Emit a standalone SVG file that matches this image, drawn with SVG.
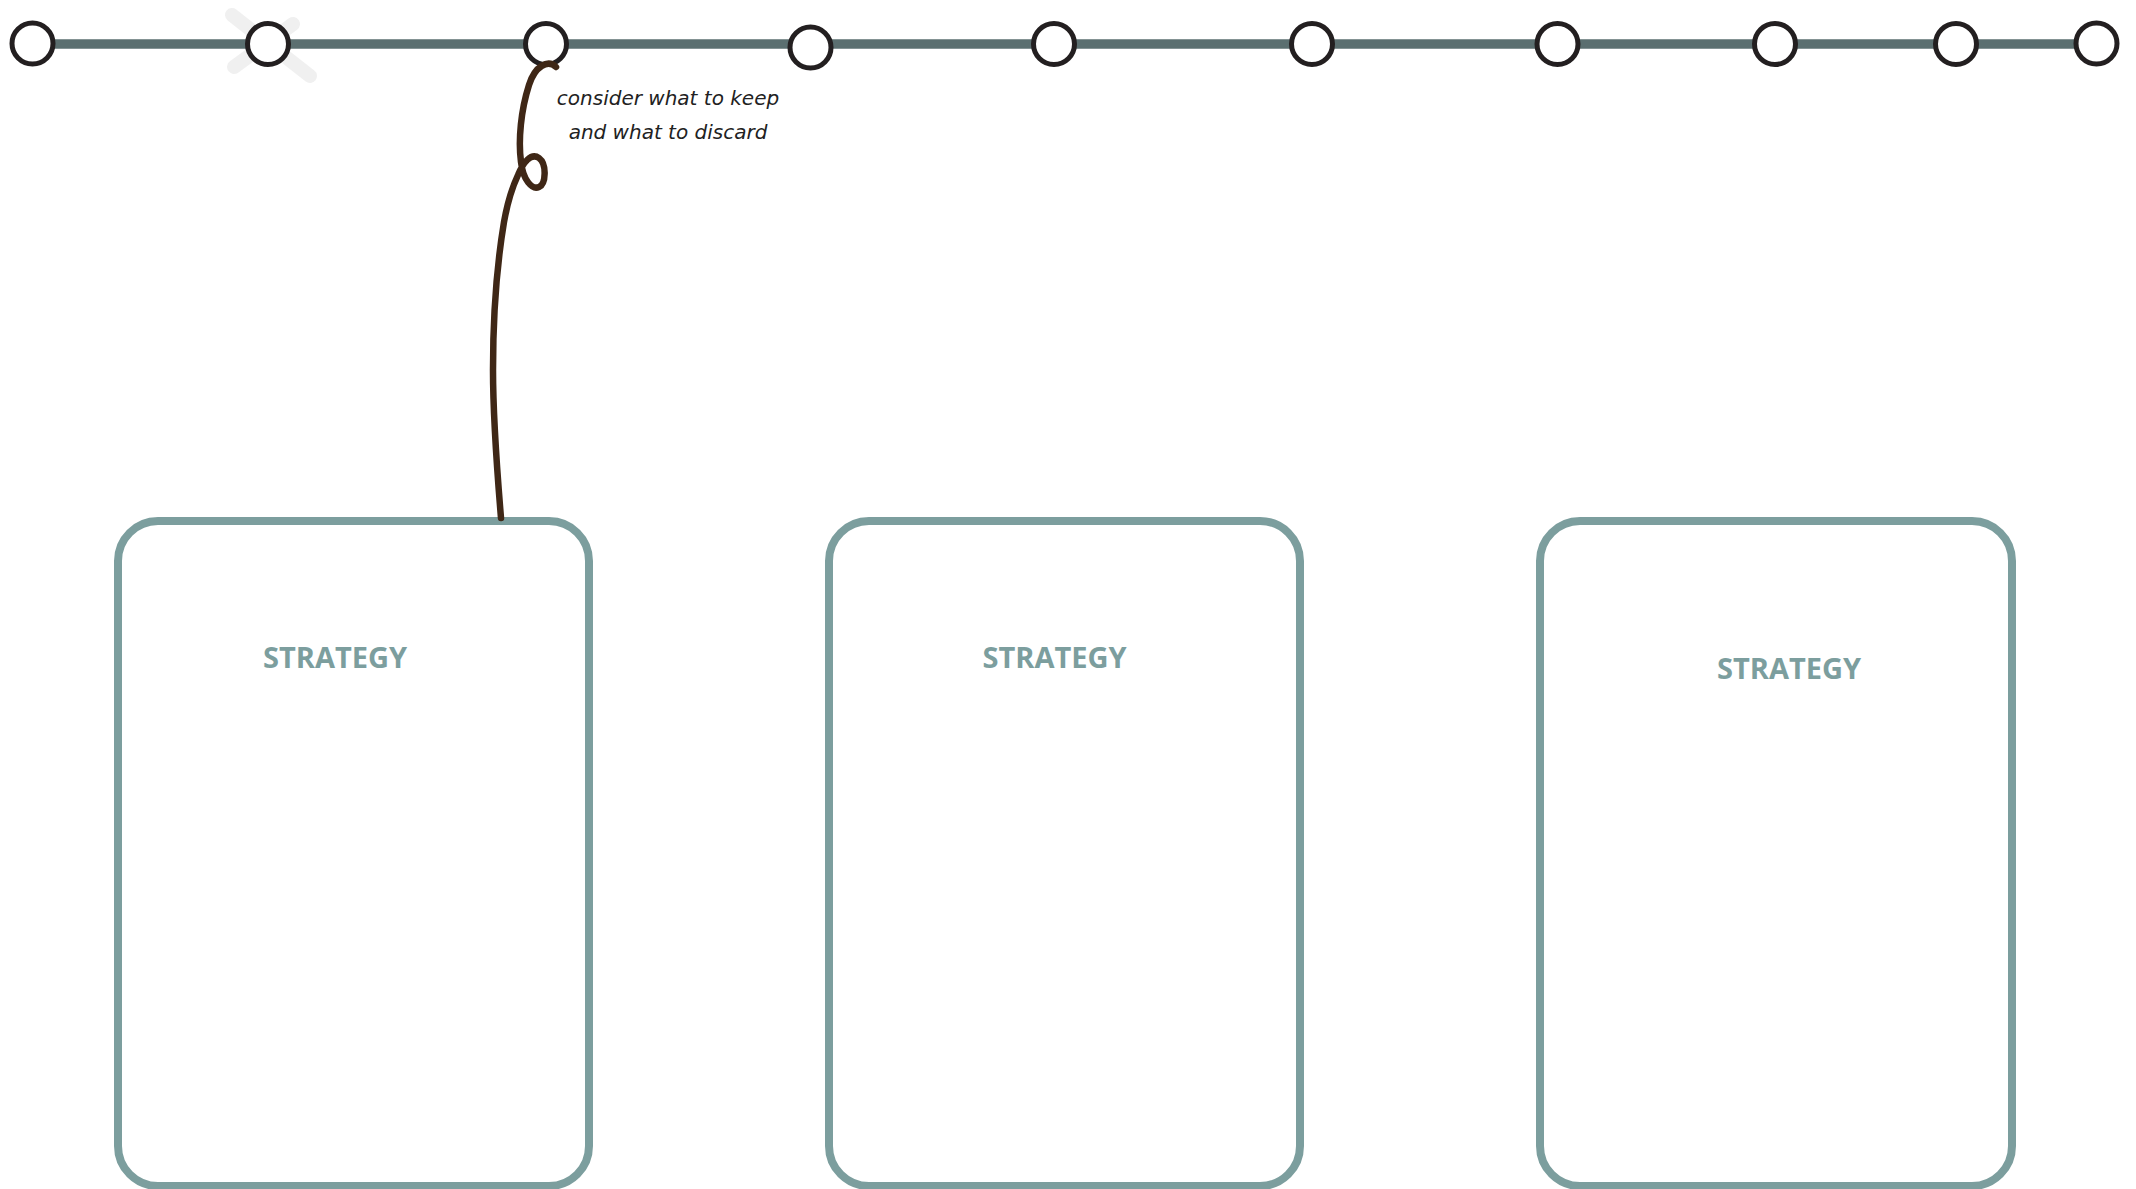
<svg xmlns="http://www.w3.org/2000/svg" width="2136" height="1189" viewBox="0 0 2136 1189">
<style>
.track{stroke:#5b6f70;stroke-width:9.5;fill:none}
.dot{fill:#fff;stroke:#231f20;stroke-width:5}
.box{fill:#fff;stroke:#7c9e9e;stroke-width:8}
.title{font-family:"Open Sans","Noto Sans",sans-serif;font-weight:700;font-size:29px;fill:#7c9e9e;text-anchor:middle}
.note{font-family:"DejaVu Sans","Noto Sans",sans-serif;font-style:italic;font-size:20px;fill:#222;text-anchor:middle}
.strike{stroke:#e6e6e6;stroke-width:14;stroke-linecap:round;opacity:0.6;fill:none}
.conn{stroke:#3f2716;stroke-width:6.5;fill:none;stroke-linecap:round;stroke-linejoin:round}
</style>
<rect width="2136" height="1189" fill="#fff"/>
<g id="timeline">
<line class="track" x1="32" y1="44" x2="2096" y2="44"/>
</g>
<g id="strike-mark">
<line class="strike" x1="232" y1="15" x2="310" y2="76"/>
<line class="strike" x1="293" y1="24" x2="234" y2="67"/>
</g>
<g id="node-1"><circle class="dot" cx="32.5" cy="43.5" r="20.5"/></g>
<g id="node-2"><circle class="dot" cx="268" cy="44" r="20.5"/></g>
<g id="node-3"><circle class="dot" cx="546" cy="44" r="20.5"/></g>
<g id="node-4"><circle class="dot" cx="810.5" cy="47.5" r="20.5"/></g>
<g id="node-5"><circle class="dot" cx="1054" cy="44" r="20.5"/></g>
<g id="node-6"><circle class="dot" cx="1312" cy="44" r="20.5"/></g>
<g id="node-7"><circle class="dot" cx="1557.5" cy="44" r="20.5"/></g>
<g id="node-8"><circle class="dot" cx="1775" cy="44" r="20.5"/></g>
<g id="node-9"><circle class="dot" cx="1956" cy="44" r="20.5"/></g>
<g id="node-10"><circle class="dot" cx="2096.5" cy="43.5" r="20.5"/></g>
<g id="strategy-1">
<rect class="box" x="118" y="521" width="471" height="665" rx="40" ry="40"/>
<text class="title" x="335" y="668">STRATEGY</text>
</g>
<g id="strategy-2">
<rect class="box" x="829" y="521" width="471" height="665" rx="40" ry="40"/>
<text class="title" x="1054.5" y="668">STRATEGY</text>
</g>
<g id="strategy-3">
<rect class="box" x="1540" y="521" width="472" height="665" rx="40" ry="40"/>
<text class="title" x="1789" y="679">STRATEGY</text>
</g>
<g id="connectors">
<path class="conn" d="M556,67 C548,59 535,66 529,85 C521,110 518,140 521,162 C523,180 532,190 539,187 C546,184 547,164 539,158 C531,152 523,163 518,175 C511,190 507,205 504,222 C496,270 493,320 493,370 C493,420 497,470 501,518"/>
</g>
<g id="note">
<text class="note" x="668" y="105">consider what to keep</text>
<text class="note" x="668" y="139">and what to discard</text>
</g>
</svg>
